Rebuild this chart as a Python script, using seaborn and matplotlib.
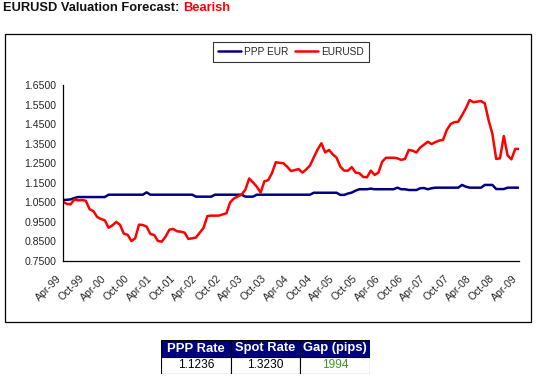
import numpy as np
import pandas as pd
import matplotlib
matplotlib.use("Agg")
import matplotlib.pyplot as plt
from matplotlib.patches import Rectangle
from matplotlib.lines import Line2D
import seaborn as sns

# monthly values, Apr-99 .. Apr-09
eurusd = [1.053, 1.042, 1.040, 1.065, 1.060, 1.062, 1.058, 1.015, 1.005, 0.975,
          0.965, 0.958, 0.920, 0.932, 0.950, 0.935, 0.890, 0.884, 0.852, 0.866,
          0.936, 0.934, 0.926, 0.888, 0.883, 0.852, 0.849, 0.875, 0.910, 0.914,
          0.902, 0.900, 0.895, 0.863, 0.866, 0.870, 0.895, 0.920, 0.980, 0.982,
          0.982, 0.982, 0.988, 0.994, 1.050, 1.070, 1.080, 1.090, 1.115, 1.172,
          1.152, 1.130, 1.100, 1.158, 1.163, 1.200, 1.255, 1.252, 1.250, 1.232,
          1.210, 1.215, 1.220, 1.202, 1.218, 1.238, 1.280, 1.320, 1.352, 1.305,
          1.318, 1.295, 1.278, 1.232, 1.212, 1.212, 1.230, 1.202, 1.199, 1.180,
          1.178, 1.212, 1.190, 1.202, 1.258, 1.278, 1.278, 1.278, 1.275, 1.267,
          1.272, 1.318, 1.314, 1.305, 1.330, 1.345, 1.360, 1.348, 1.358, 1.366,
          1.369, 1.420, 1.450, 1.460, 1.462, 1.495, 1.530, 1.573, 1.562, 1.565,
          1.568, 1.556, 1.470, 1.400, 1.272, 1.275, 1.389, 1.290, 1.270, 1.323,
          1.323]
ppp_eur = [1.062, 1.063, 1.065, 1.072, 1.077, 1.077, 1.077, 1.077, 1.077, 1.077,
           1.077, 1.077, 1.089, 1.089, 1.089, 1.089, 1.089, 1.089, 1.089, 1.089,
           1.089, 1.089, 1.101, 1.089, 1.089, 1.089, 1.089, 1.089, 1.089, 1.089,
           1.089, 1.089, 1.089, 1.089, 1.089, 1.079, 1.079, 1.079, 1.079, 1.079,
           1.089, 1.089, 1.089, 1.089, 1.089, 1.089, 1.089, 1.089, 1.079, 1.079,
           1.079, 1.089, 1.089, 1.089, 1.089, 1.089, 1.089, 1.089, 1.089, 1.089,
           1.089, 1.089, 1.089, 1.089, 1.089, 1.089, 1.099, 1.099, 1.099, 1.099,
           1.099, 1.099, 1.099, 1.088, 1.088, 1.095, 1.100, 1.110, 1.117, 1.117,
           1.117, 1.120, 1.117, 1.117, 1.117, 1.117, 1.117, 1.117, 1.125, 1.117,
           1.117, 1.113, 1.113, 1.113, 1.122, 1.123, 1.117, 1.122, 1.125, 1.125,
           1.125, 1.125, 1.125, 1.125, 1.125, 1.139, 1.130, 1.125, 1.125, 1.125,
           1.125, 1.139, 1.139, 1.139, 1.118, 1.118, 1.118, 1.125, 1.125, 1.125,
           1.125]
tick_labels = ["Apr-99", "Oct-99", "Apr-00", "Oct-00", "Apr-01", "Oct-01", "Apr-02",
               "Oct-02", "Apr-03", "Oct-03", "Apr-04", "Oct-04", "Apr-05", "Oct-05",
               "Apr-06", "Oct-06", "Apr-07", "Oct-07", "Apr-08", "Oct-08", "Apr-09"]
table_cols = ["PPP Rate", "Spot Rate", "Gap (pips)"]
table_vals = ["1.1236", "1.3230", "1994"]

df = pd.DataFrame({
    "month": list(range(len(eurusd))) * 2,
    "rate": ppp_eur + eurusd,
    "series": ["PPP EUR"] * len(ppp_eur) + ["EURUSD"] * len(eurusd),
})

sns.set_style("white")
plt.rcParams["font.family"] = ["Liberation Sans", "DejaVu Sans"]

fig = plt.figure(figsize=(5.37, 3.76), dpi=100)
fig.patch.set_facecolor("white")
ax = fig.add_axes([63 / 537, 1 - 261 / 376, 456 / 537, 176 / 376])

sns.lineplot(data=df, x="month", y="rate", hue="series",
             palette={"PPP EUR": "#000080", "EURUSD": "#ff0000"},
             linewidth=1.8, ax=ax, legend=False)

ax.set_xlim(0, len(eurusd) - 1)
ax.set_ylim(0.75, 1.65)
ax.set_yticks(np.arange(0.75, 1.651, 0.1))
ax.set_yticklabels([f"{v:.4f}" for v in np.arange(0.75, 1.651, 0.1)], fontsize=7.6)
ax.set_xticks(range(0, len(eurusd), 6))
ax.set_xticklabels(tick_labels, rotation=45, ha="right", fontsize=7.6)
ax.set_xlabel("")
ax.set_ylabel("")
for s in ["top", "right"]:
    ax.spines[s].set_visible(False)
for s in ["left", "bottom"]:
    ax.spines[s].set_color("black")
    ax.spines[s].set_linewidth(0.9)
ax.tick_params(axis="both", direction="out", length=3, width=0.8, color="black")
ax.tick_params(axis="x", pad=6)
ax.tick_params(axis="y", pad=2)

# legend
handles = [Line2D([], [], color="#000080", lw=1.8), Line2D([], [], color="#ff0000", lw=1.8)]
leg = fig.legend(handles, ["PPP EUR", "EURUSD"], loc="center",
                 bbox_to_anchor=(291 / 537, 1 - 52 / 376), ncol=2, fontsize=7.3,
                 frameon=True, fancybox=False, edgecolor="black", handlelength=2.3,
                 columnspacing=0.6, handletextpad=0.3, borderpad=0.5)
leg.get_frame().set_linewidth(0.8)

# chart border
fig.patches.append(Rectangle((5 / 537, 1 - 322 / 376), 526 / 537, 288 / 376,
                             transform=fig.transFigure, fill=False,
                             edgecolor="black", linewidth=0.9))

# title
t1 = fig.text(3 / 537, 1 - 8 / 376, "EURUSD Valuation Forecast: ", fontsize=9.3,
              fontweight="bold", color="#111111", va="center", ha="left")
ax.annotate("Bearish", xy=(1, 0), xycoords=t1, va="bottom", ha="left",
            fontsize=9.3, fontweight="bold", color="#ff0000", annotation_clip=False)

# summary table
tax = fig.add_axes([161 / 537, 2 / 376, 209 / 537, 34 / 376])
tax.set_xlim(0, 3)
tax.set_ylim(0, 2)
tax.axis("off")
for i, (c, v) in enumerate(zip(table_cols, table_vals)):
    tax.add_patch(Rectangle((i, 1), 1, 1, facecolor="#000080", edgecolor="black", lw=0.8))
    tax.add_patch(Rectangle((i, 0), 1, 1, facecolor="white", edgecolor="black", lw=0.8))
    tax.text(i + 0.5, 1.5, c, ha="center", va="center", color="white",
             fontsize=9.4, fontweight="bold")
    tax.text(i + 0.5, 0.5, v, ha="center", va="center", fontsize=8.6,
             color="#3c9a1e" if i == 2 else "black")

fig.savefig("out.png", dpi=100)
